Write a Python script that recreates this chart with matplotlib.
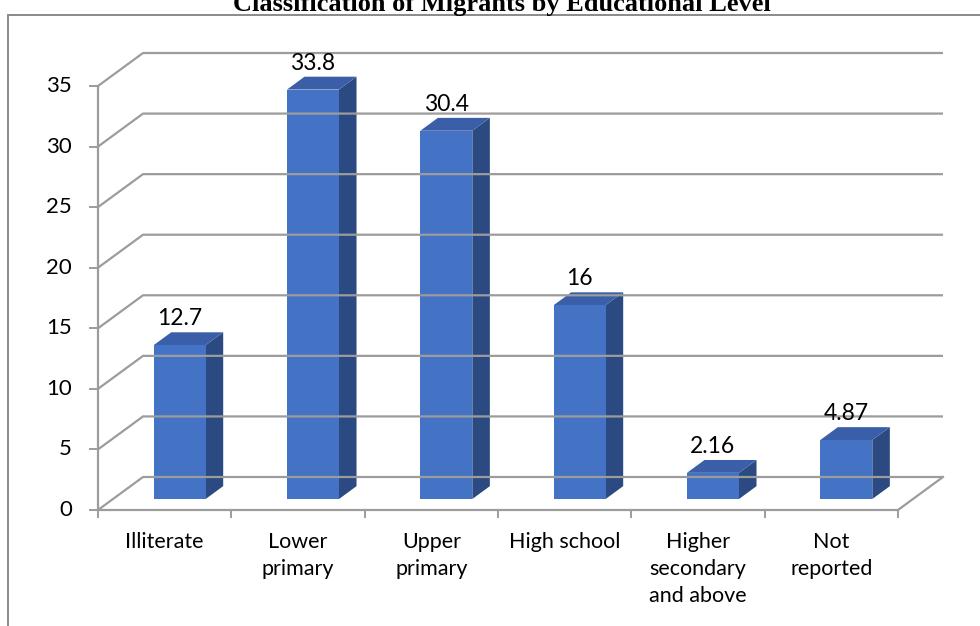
import matplotlib
matplotlib.use("Agg")
import matplotlib.pyplot as plt
from matplotlib.patches import Polygon, Rectangle

# Datos
categorias = ["Illiterate", "Lower\nprimary", "Upper\nprimary", "High school",
              "Higher\nsecondary\nand above", "Not\nreported"]
valores = [12.7, 33.8, 30.4, 16, 2.16, 4.87]
etiquetas = ["12.7", "33.8", "30.4", "16", "2.16", "4.87"]
ticks_y = [0, 5, 10, 15, 20, 25, 30, 35]
titulo = "Classification of Migrants by Educational Level"

W, H = 980, 626
PX_CAT = 133.33     # pixeles por categoria
PX_VAL = 12.114     # pixeles por unidad
X0, Y0 = 98, 510    # origen del plano frontal en pixeles

# profundidad del grafico 3D (en unidades de datos)
DX = 45 / PX_CAT
DY = 33 / PX_VAL
F0 = 0.333          # posicion de las barras dentro de la profundidad
FD = 0.39           # profundidad de las barras
ANCHO = 0.39

C_FRENTE = "#4472C4"
C_TOPE = "#3A5FA8"
C_LADO = "#2B4A82"
C_GRID = "#9C9C9C"

fig = plt.figure(figsize=(W / 100, H / 100), dpi=100)
ax = fig.add_axes([0, 0, 1, 1])
ax.set_xlim(-X0 / PX_CAT, (W - X0) / PX_CAT)
ax.set_ylim(-(H - Y0) / PX_VAL, Y0 / PX_VAL)
ax.axis("off")

fuente = "Lato"
n = len(categorias)

# marco exterior
ax.add_patch(Rectangle((-(X0 - 8) / PX_CAT, -20), 20, (Y0 - 15) / PX_VAL + 20,
                       fill=False, edgecolor="#8A8A8A", lw=1.4, clip_on=False))

# paredes: lineas de la rejilla con su diagonal
for t in ticks_y:
    ax.plot([0, DX, n + DX], [t, t + DY, t + DY], color=C_GRID, lw=1.6,
            solid_capstyle="butt")
    ax.plot([-8 / PX_CAT, 0], [t, t], color=C_GRID, lw=1.4)
    ax.text(-26 / PX_CAT, t, str(t), ha="right", va="center",
            fontsize=16, family=fuente, color="black")

# piso
ax.plot([0, n, n + DX], [0, 0, DY], color=C_GRID, lw=1.6)
ax.plot([0, 0], [0, ticks_y[-1]], color=C_GRID, lw=1.6)
for i in range(n + 1):
    ax.plot([i, i], [0, -7 / PX_VAL], color=C_GRID, lw=1.4)

# barras
bdx, bdy = FD * DX, FD * DY
for i, (v, lab, cat) in enumerate(zip(valores, etiquetas, categorias)):
    xl = i + 0.5 + F0 * DX - ANCHO / 2
    xr = xl + ANCHO
    yb = F0 * DY
    yt = yb + v
    ax.add_patch(Polygon([(xr, yb), (xr + bdx, yb + bdy), (xr + bdx, yt + bdy), (xr, yt)],
                         closed=True, facecolor=C_LADO, edgecolor="none"))
    ax.add_patch(Polygon([(xl, yt), (xr, yt), (xr + bdx, yt + bdy), (xl + bdx, yt + bdy)],
                         closed=True, facecolor=C_TOPE, edgecolor="none"))
    ax.add_patch(Rectangle((xl, yb), ANCHO, v, facecolor=C_FRENTE, edgecolor="none"))
    ax.text((xl + xr) / 2, yt + bdy + 7 / PX_VAL, lab, ha="center", va="baseline",
            fontsize=16.5, family=fuente, color="black")
    ax.text(i + 0.5, -22 / PX_VAL, cat, ha="center", va="top", linespacing=1.45,
            fontsize=15.5, family=fuente, color="black")

# titulo (cortado arriba)
ax.text((502 - X0) / PX_CAT, (Y0 - 11) / PX_VAL, titulo, ha="center", va="baseline",
        fontsize=19, fontweight="bold", family="Liberation Serif", color="black")

fig.savefig("out.png", dpi=100)
